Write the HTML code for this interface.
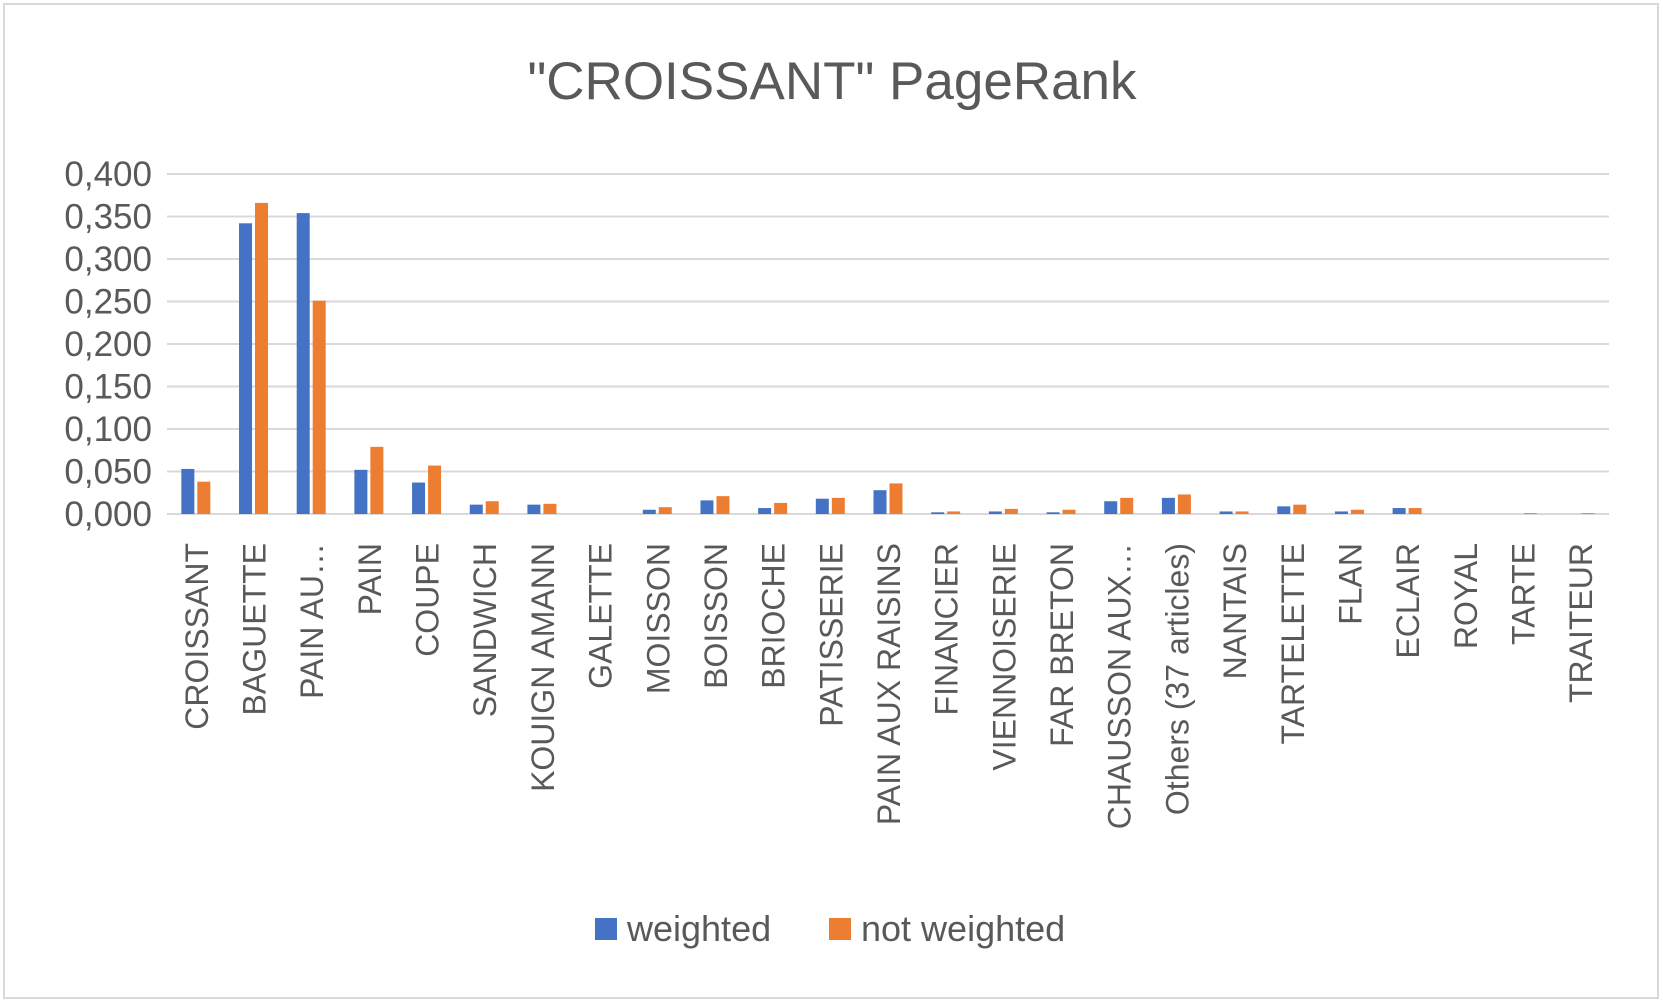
<!DOCTYPE html>
<html><head><meta charset="utf-8"><style>
body{margin:0;background:#fff;}
svg{display:block;font-family:"Liberation Sans",sans-serif;}
</style></head><body>
<svg width="1663" height="1003" viewBox="0 0 1663 1003">
<rect x="4" y="4" width="1654" height="994" fill="#fff" stroke="#d9d9d9" stroke-width="2"/>
<text x="832" y="99" text-anchor="middle" font-size="53" fill="#595959">"CROISSANT" PageRank</text>
<g id="grid"></g><g id="bars"></g><g id="xl"></g>
<g>
<rect x="595" y="918" width="22" height="22" fill="#4472c4"/>
<text x="627" y="941" font-size="36" fill="#595959">weighted</text>
<rect x="829" y="918" width="22" height="22" fill="#ed7d31"/>
<text x="861" y="941" font-size="36" fill="#595959">not weighted</text>
</g>
</svg>
<script>
const categories=["CROISSANT","BAGUETTE","PAIN AU…","PAIN","COUPE","SANDWICH","KOUIGN AMANN","GALETTE","MOISSON","BOISSON","BRIOCHE","PATISSERIE","PAIN AUX RAISINS","FINANCIER","VIENNOISERIE","FAR BRETON","CHAUSSON AUX…","Others (37 articles)","NANTAIS","TARTELETTE","FLAN","ECLAIR","ROYAL","TARTE","TRAITEUR"];
const weighted=[0.053,0.342,0.354,0.052,0.037,0.011,0.011,0,0.005,0.016,0.007,0.018,0.028,0.002,0.003,0.002,0.015,0.019,0.003,0.009,0.003,0.007,0,0,0];
const notWeighted=[0.038,0.366,0.251,0.079,0.057,0.015,0.012,0,0.008,0.021,0.013,0.019,0.036,0.003,0.006,0.005,0.019,0.023,0.003,0.011,0.005,0.007,0,0.001,0.001];
const yTicks=[0,0.05,0.1,0.15,0.2,0.25,0.3,0.35,0.4];
const yTickLabels=["0,000","0,050","0,100","0,150","0,200","0,250","0,300","0,350","0,400"];
const NS="http://www.w3.org/2000/svg";
const L=167,R=1609,T=174,B=514,yMax=0.4;
const y=v=>B-(v/yMax)*(B-T);
const step=(R-L)/categories.length;
const x=i=>L+step*(i+0.5);
function mk(t,a,p){const e=document.createElementNS(NS,t);for(const k in a)e.setAttribute(k,a[k]);p.appendChild(e);return e;}
const g=document.getElementById('grid');
yTicks.forEach((v,i)=>{
 const l=mk('line',{x1:L,x2:R,y1:y(v),y2:y(v),stroke:'#d9d9d9','stroke-width':2},g);
 
 
 const t=mk('text',{x:152,y:y(v)+12,'text-anchor':'end','font-size':35,fill:'#595959'},g);
 
 
 t.textContent=yTickLabels[i];
});
const bg=document.getElementById('bars'),xl=document.getElementById('xl');
const bw=13;
categories.forEach((c,i)=>{
 const cx=x(i);
 const b1=mk('rect',{x:cx-bw-1.5,y:y(weighted[i]),width:bw,height:B-y(weighted[i]),fill:'#4472c4'},bg);
 
 
 const b2=mk('rect',{x:cx+1.5,y:y(notWeighted[i]),width:bw,height:B-y(notWeighted[i]),fill:'#ed7d31'},bg);
 
 
 const t=mk('text',{transform:`translate(${cx+12},543) rotate(-90)`,'text-anchor':'end','font-size':32,fill:'#595959'},xl);
 
 
 t.textContent=c;
});
</script>
</body></html>
